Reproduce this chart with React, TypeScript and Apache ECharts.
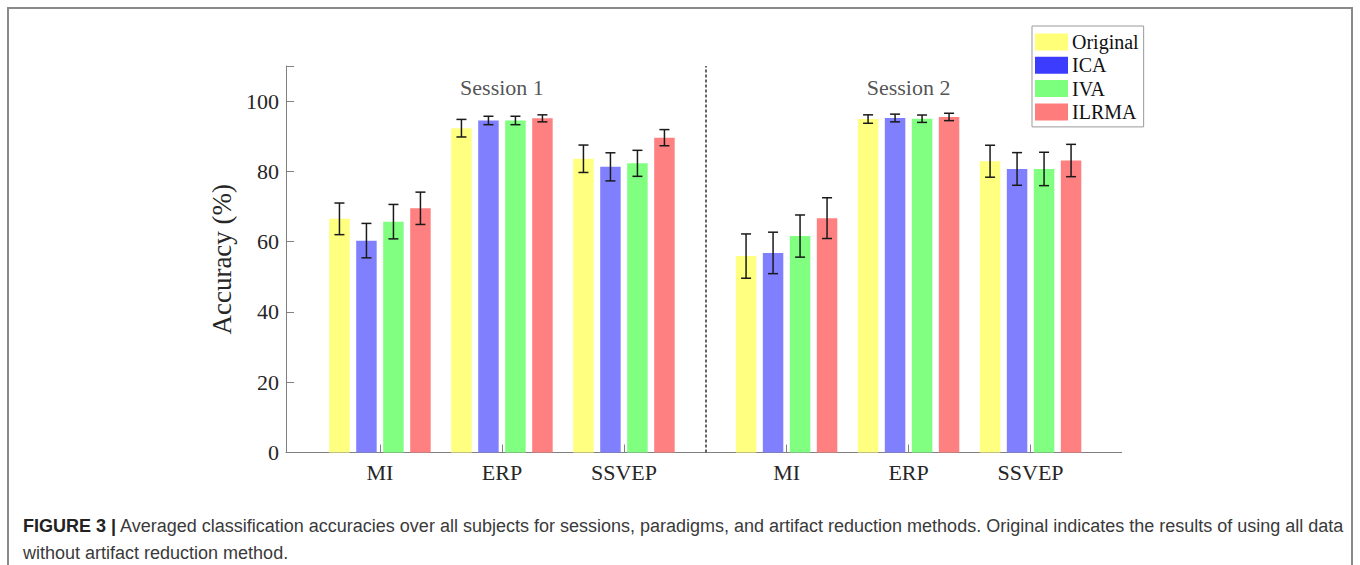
import React, { useEffect, useRef } from "react";
import * as echarts from "echarts";

const methods = ["Original", "ICA", "IVA", "ILRMA"];
const categories = ["MI", "ERP", "SSVEP", "MI", "ERP", "SSVEP"];
const groupPositions = [1, 2, 3, 4.333, 5.333, 6.333];
const sessionLabels = ["Session 1", "Session 2"];
const sessionCenters = [2, 5.333];
const sessionDivider = 3.667;

const originalMean = [66.5, 92.3, 83.6, 55.9, 94.9, 82.9];
const originalErr = [4.5, 2.5, 3.9, 6.3, 1.2, 4.55];
const icaMean = [60.3, 94.5, 81.3, 56.8, 95.2, 80.7];
const icaErr = [4.9, 1.2, 4.0, 5.9, 1.1, 4.65];
const ivaMean = [65.7, 94.5, 82.3, 61.6, 95.0, 80.7];
const ivaErr = [4.9, 1.2, 3.7, 6.0, 1.05, 4.75];
const ilrmaMean = [69.5, 95.1, 89.6, 66.7, 95.5, 83.1];
const ilrmaErr = [4.6, 1.0, 2.3, 5.8, 1.05, 4.6];

const means = [originalMean, icaMean, ivaMean, ilrmaMean];
const errs = [originalErr, icaErr, ivaErr, ilrmaErr];

const barColors = ["#ffff80", "#8080ff", "#80ff80", "#ff8080"];
const legendColors = ["#ffff78", "#3c3cff", "#7cff7c", "#ff7c7c"];

const BAR_STEP = 0.2213;
const BAR_W = 0.168;
const SERIF = "'Liberation Serif', 'Times New Roman', serif";
const SANS = "'Liberation Sans', Arial, sans-serif";

export default function App() {
  const ref = useRef<HTMLDivElement>(null);
  useEffect(() => {
    if (!ref.current) return;
    const chart = echarts.init(ref.current, null, { renderer: "svg" });

    const barSeries = methods.map((name, k) => ({
      name,
      type: "custom",
      data: groupPositions.map((x, i) => [x, means[k][i], errs[k][i]]),
      encode: { x: 0, y: 1 },
      itemStyle: { color: barColors[k] },
      renderItem: (params: any, api: any) => {
        const x = api.value(0) + (k - 1.5) * BAR_STEP;
        const y = api.value(1);
        const e = api.value(2);
        const tl = api.coord([x - BAR_W / 2, y]);
        const br = api.coord([x + BAR_W / 2, 0]);
        const top = api.coord([x, y + e]);
        const bot = api.coord([x, y - e]);
        const cap = 5;
        const stroke = { stroke: "#1a1a1a", lineWidth: 1.5 };
        return {
          type: "group",
          children: [
            {
              type: "rect",
              shape: { x: tl[0], y: tl[1], width: br[0] - tl[0], height: br[1] - tl[1] },
              style: { fill: barColors[k] },
            },
            { type: "line", shape: { x1: top[0], y1: top[1], x2: bot[0], y2: bot[1] }, style: stroke },
            { type: "line", shape: { x1: top[0] - cap, y1: top[1], x2: top[0] + cap, y2: top[1] }, style: stroke },
            { type: "line", shape: { x1: bot[0] - cap, y1: bot[1], x2: bot[0] + cap, y2: bot[1] }, style: stroke },
          ],
        };
      },
    }));

    const option: any = {
      animation: false,
      backgroundColor: "#ffffff",
      grid: { left: 286, top: 66, right: 238.3, bottom: 112.5, containLabel: false },
      legend: {
        left: 1032,
        top: 26,
        orient: "vertical",
        icon: "rect",
        itemWidth: 33,
        itemHeight: 17,
        itemGap: 3.3,
        padding: [6, 5, 5, 3],
        borderColor: "#999999",
        borderWidth: 1,
        backgroundColor: "#ffffff",
        textStyle: { fontFamily: SERIF, fontSize: 20, color: "#111", padding: [0, 0, 0, -1] },
        data: methods.map((m, i) => ({ name: m, itemStyle: { color: legendColors[i] } })),
        selectedMode: false,
      },
      xAxis: {
        type: "value",
        min: 0.23,
        max: 7.08,
        splitLine: { show: false },
        axisLine: { show: true, lineStyle: { color: "#808080", width: 1 } },
        axisTick: { show: true, inside: true, length: 8, customValues: groupPositions, lineStyle: { color: "#808080" } },
        axisLabel: {
          customValues: groupPositions,
          margin: 9,
          fontFamily: SERIF,
          fontSize: 22,
          color: "#262626",
          formatter: (v: number) => {
            let best = 0;
            groupPositions.forEach((p, i) => {
              if (Math.abs(p - v) < Math.abs(groupPositions[best] - v)) best = i;
            });
            return categories[best];
          },
        },
      },
      yAxis: {
        type: "value",
        min: 0,
        max: 110,
        interval: 20,
        name: "Accuracy (%)",
        nameLocation: "middle",
        nameGap: 39,
        nameTextStyle: { fontFamily: SERIF, fontSize: 27, color: "#262626" },
        splitLine: { show: false },
        axisLine: { show: true, lineStyle: { color: "#808080", width: 1 } },
        axisTick: { show: true, inside: true, length: 8, lineStyle: { color: "#808080" } },
        axisLabel: {
          margin: 7,
          fontFamily: SERIF,
          fontSize: 22,
          color: "#262626",
          formatter: (v: number) => (v > 100 ? "" : String(v)),
        },
      },
      series: [
        ...barSeries,
        {
          name: "sessions",
          type: "scatter",
          silent: true,
          symbolSize: 0,
          data: sessionCenters.map((x, i) => [x, 104, i]),
          label: {
            show: true,
            position: "inside",
            fontFamily: SERIF,
            fontSize: 22,
            color: "#262626",
            formatter: (p: any) => sessionLabels[p.data[2]],
          },
          markLine: {
            silent: true,
            symbol: ["none", "none"],
            label: { show: false },
            lineStyle: { type: [3, 2], color: "#333333", width: 1.5 },
            data: [{ xAxis: sessionDivider }],
          },
        },
      ],
      graphic: [
        {
          type: "rect",
          shape: { x: 8, y: 8, width: 1344, height: 600 },
          style: { fill: "none", stroke: "#8a8a8a", lineWidth: 2 },
          silent: true,
        },
        {
          type: "text",
          left: 23,
          top: 512,
          style: {
            text:
              "{b|FIGURE 3 |} Averaged classification accuracies over all subjects for sessions, paradigms, and artifact reduction methods. Original indicates the results of using all data\nwithout artifact reduction method.",
            fontFamily: SANS,
            fontSize: 18,
            lineHeight: 27,
            fill: "#3a3a3a",
            rich: {
              b: { fontFamily: SANS, fontSize: 18, fontWeight: "bold", fill: "#222222", lineHeight: 27 },
            },
          },
        },
      ],
    };

    chart.setOption(option);
    return () => chart.dispose();
  }, []);

  return (
    <div
      ref={ref}
      style={{ position: "absolute", left: 0, top: 0, width: 1360, height: 565, background: "#fff" }}
    />
  );
}
